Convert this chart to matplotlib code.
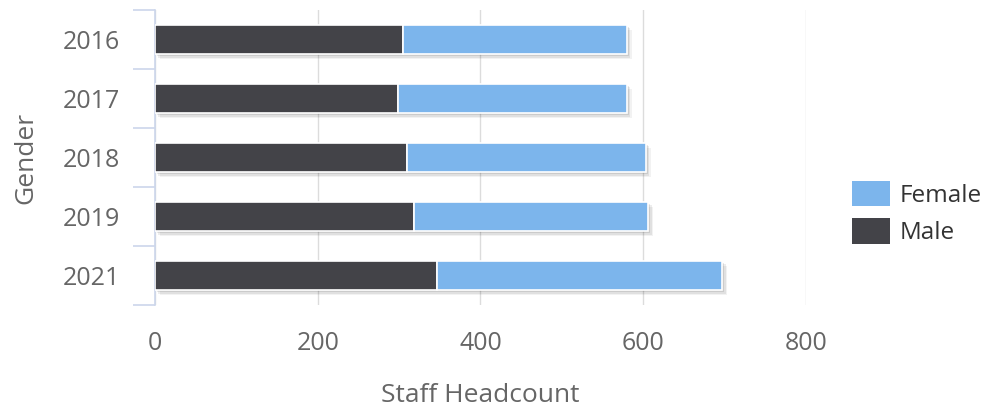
import matplotlib
matplotlib.use("Agg")
import matplotlib.pyplot as plt
import matplotlib.patheffects as pe
import numpy as np

years = ["2016", "2017", "2018", "2019", "2021"]
male = [305, 299, 310, 318, 347]
female = [275, 281, 293, 288, 350]

MALE_COLOR = "#434348"
FEMALE_COLOR = "#7cb5ec"
AXIS_COLOR = "#ccd6eb"
GRID_COLOR = "#dcdcdc"
TEXT_COLOR = "#666666"

plt.rcParams["font.family"] = ["Open Sans", "DejaVu Sans"]

fig = plt.figure(figsize=(10.01, 4.09), dpi=100)
ax = fig.add_axes([155 / 1001, 1 - 305 / 409, (806 - 155) / 1001, 295 / 409])

# soft drop shadow like the original chart
shadow = [pe.SimplePatchShadow(offset=(o, -o), shadow_rgbFace="black", alpha=a)
          for o, a in [(3.5, 0.05), (2.5, 0.07), (1.5, 0.09)]] + [pe.Normal()]
y = np.arange(len(years))
bars_m = ax.barh(y, male, height=0.5, color=MALE_COLOR, edgecolor="white", linewidth=1.2, label="Male", zorder=3)
bars_f = ax.barh(y, female, left=male, height=0.5, color=FEMALE_COLOR, edgecolor="white", linewidth=1.2, label="Female", zorder=3)
for b in list(bars_m) + list(bars_f):
    b.set_path_effects(shadow)

ax.set_xlim(0, 800)
ax.set_ylim(len(years) - 0.5, -0.5)
ax.set_xticks([0, 200, 400, 600, 800])
ax.set_yticks(y)
ax.set_yticklabels(years)
ax.set_yticks(np.arange(-0.5, len(years)), minor=True)

ax.grid(axis="x", color=GRID_COLOR, linewidth=1, zorder=0)
for s in ["top", "right", "bottom"]:
    ax.spines[s].set_visible(False)
ax.spines["left"].set_color(AXIS_COLOR)
ax.spines["left"].set_linewidth(1.2)

ax.tick_params(axis="y", which="major", length=0, pad=25, labelsize=18, labelcolor=TEXT_COLOR)
ax.tick_params(axis="y", which="minor", length=16, width=1.2, color=AXIS_COLOR)
ax.tick_params(axis="x", length=0, pad=19, labelsize=18, labelcolor=TEXT_COLOR)

ax.set_xlabel("Staff Headcount", fontsize=19, color=TEXT_COLOR, labelpad=19)
ax.set_ylabel("Gender", fontsize=19, color=TEXT_COLOR, labelpad=18)

handles, labels = ax.get_legend_handles_labels()
leg = fig.legend(handles[::-1], labels[::-1], loc="center left", bbox_to_anchor=(840 / 1001, 1 - 213 / 409),
                 frameon=False, fontsize=17.5, borderpad=0, handlelength=1.55, handleheight=1.25,
                 handletextpad=0.4, labelspacing=0.45)
for h in leg.legend_handles:
    h.set_path_effects([])
    h.set_edgecolor("none")
for t in leg.get_texts():
    t.set_color("#333333")

fig.savefig("out.png", dpi=100)
